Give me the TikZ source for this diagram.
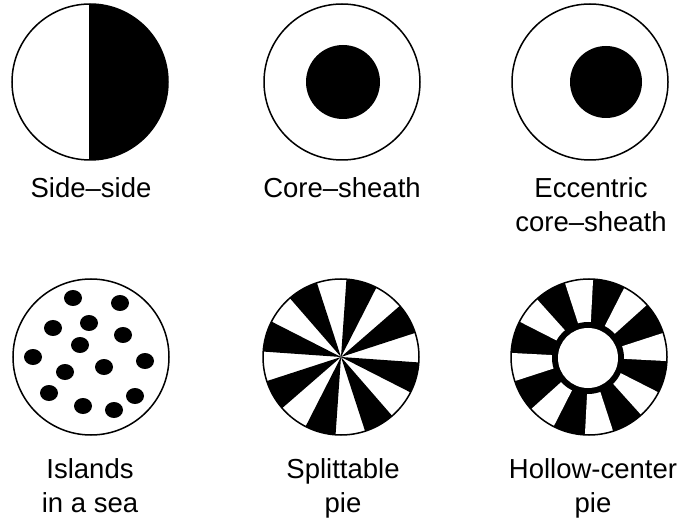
\documentclass[tikz,border=0pt]{standalone}
\usepackage{fontspec}
\setmainfont{Liberation Sans}
\usepackage{tikz}

\tikzset{
	fibra/.style={line width=1.5pt},
	etichetta/.style={font=\fontsize{27.5}{34}\selectfont, align=center, anchor=base, inner sep=0pt},
}

\begin{document}
\begin{tikzpicture}[x=1pt,y=1pt]
		\useasboundingbox (0,0) rectangle (680,528); % Margini della figura
		
		% Side-side
		\fill (90,446) ++(90:78) arc[start angle=90, end angle=-90, radius=78] -- cycle; % Meta destra nera
		\draw[fibra] (90,446) circle (78); % Bordo
		\draw[fibra] (90,368) -- (90,524); % Linea di separazione
		\node[etichetta] (sideside) at (91,330) {Side–side};
		
		% Core-sheath
		\draw[fibra] (342,446) circle (78); % Guaina
		\fill (343,446) circle (37); % Nucleo
		\node[etichetta] (coresheath) at (342,330) {Core–sheath};
		
		% Eccentric core-sheath
		\draw[fibra] (590,446) circle (78); % Guaina
		\fill (606,446) circle (36); % Nucleo spostato
		\node[etichetta] (eccentric) at (591,296) {Eccentric\\core–sheath}; % base = ultima riga
		
		% Islands in a sea
		\draw[fibra] (91,171) circle (78); % Mare
		\foreach \x/\y in {73/230, 120/225, 53/200, 89/205, 123/193, 80/183, 33/171,
			145/167, 65/156, 104/161, 49/135, 135/132, 83/122, 114/118}
			\fill (\x,\y) ellipse (9 and 8); % Isole
		\node[etichetta] (islands) at (90,16) {Islands\\in a sea};
		
		% Splittable pie
		\foreach \k in {0,...,7}
			\fill (341,171) -- ++({108+45*\k}:78) arc[start angle={108+45*\k}, delta angle=23, radius=78] -- cycle; % Spicchi neri
		\draw[fibra] (341,171) circle (78); % Bordo
		\node[etichetta] (splittable) at (343,16) {Splittable\\pie};
		
		% Hollow-center pie
		\fill (589,171) circle (78); % Disco nero
		\foreach \k in {0,...,7}
			\fill[white] (589,171) -- ++({87+45*\k}:78) arc[start angle={87+45*\k}, delta angle=21, radius=78] -- cycle; % Spicchi bianchi
		\fill (588,170) circle (36); % Anello nero
		\fill[white] (588,170) circle (30); % Centro cavo
		\draw[fibra] (589,171) circle (78); % Bordo
		\node[etichetta] (hollow) at (593,16) {Hollow-center\\pie};
	\end{tikzpicture}
\end{document}
